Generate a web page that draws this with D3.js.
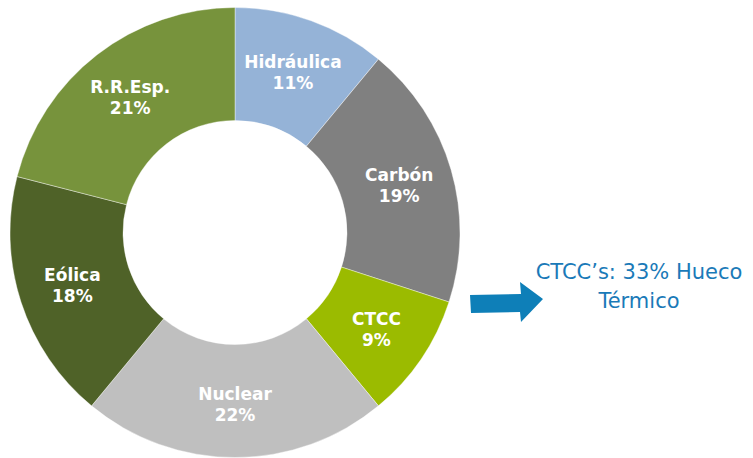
<!DOCTYPE html>
<html><head><meta charset="utf-8">
<script src="https://cdn.jsdelivr.net/npm/d3@7"></script>
<style>body{margin:0;background:#fff}svg{display:block}</style>
</head><body>
<script>
const categories = ["Hidráulica","Carbón","CTCC","Nuclear","Eólica","R.R.Esp."];
const values = [11,19,9,22,18,21];
const colors = ["#95b3d7","#808080","#9bbb00","#bfbfbf","#4f6228","#77933c"];
const noteLines = ["CTCC\u2019s: 33% Hueco","Térmico"];

const W=753,H=458, cx=235, cy=232.5, R=225, r=112;
const svg=d3.select("body").append("svg").attr("width",W).attr("height",H);
const g=svg.append("g").attr("transform",`translate(${cx},${cy})`);
const pie=d3.pie().sort(null).value(d=>d)(values);
const arc=d3.arc().innerRadius(r).outerRadius(R);
const labelArc=d3.arc().innerRadius(171).outerRadius(171);
g.selectAll("path").data(pie).join("path").attr("d",arc)
  .attr("fill",(d,i)=>colors[i]).attr("stroke","#fff").attr("stroke-width",0.4);
const lab=g.selectAll("text").data(pie).join("text")
  .attr("transform",d=>`translate(${labelArc.centroid(d)})`)
  .attr("text-anchor","middle").attr("fill","#fff")
  .style("font-family","DejaVu Sans, Verdana, sans-serif").style("font-weight","bold").style("font-size","17px");
lab.append("tspan").attr("x",0).attr("y",-4).text((d,i)=>categories[i]);
lab.append("tspan").attr("x",0).attr("y",17).text((d,i)=>values[i]+"%");

// arrow
svg.append("path").attr("d","M470,295 L521,294 L520,282 L543,299 L521,322 L520,312 L471,313 Z")
  .attr("fill","#0e7fb8");
const t=svg.append("text").attr("text-anchor","middle").attr("fill","#1a7ab8")
  .style("font-family","'Comic Sans MS', 'DejaVu Sans', sans-serif").style("font-size","21px");
noteLines.forEach((s,i)=>t.append("tspan").attr("x",639).attr("y",279+i*29).text(s));
</script>
</body></html>
